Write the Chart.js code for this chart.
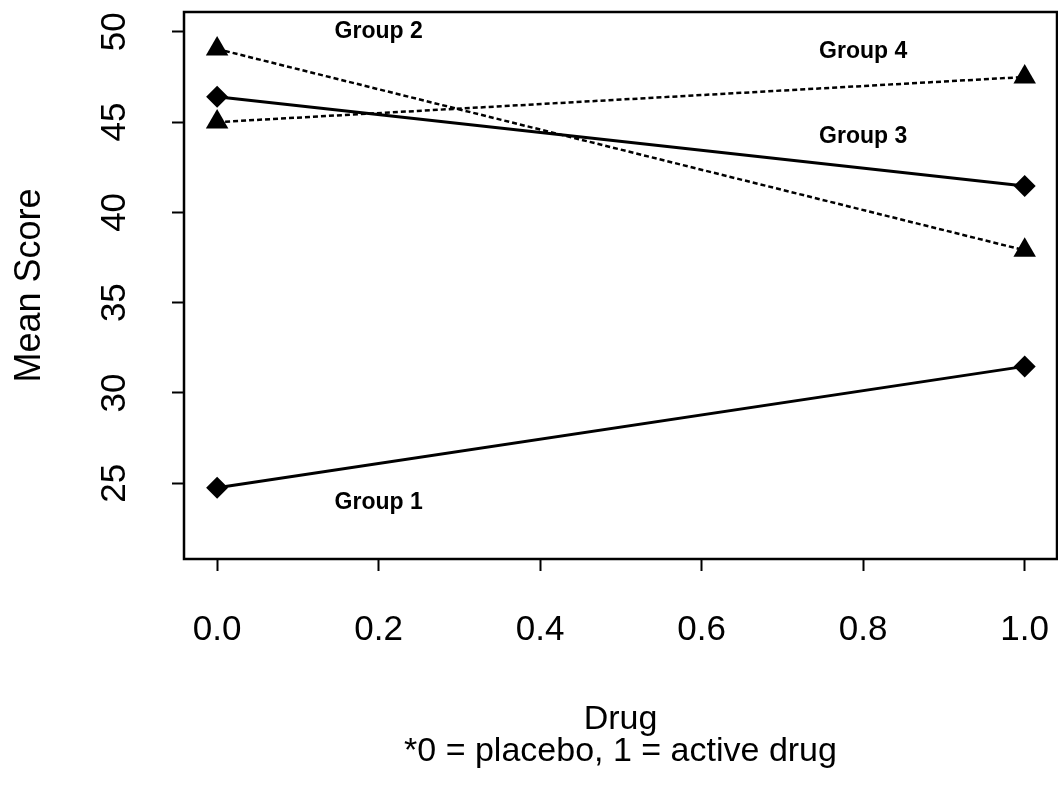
<!DOCTYPE html>
<html>
<head>
<meta charset="utf-8">
<title>Mean Score by Drug</title>
<script src="https://cdn.jsdelivr.net/npm/chart.js"></script>
<style>
  html, body { margin: 0; padding: 0; background: #fff; }
  canvas { display: block; }
</style>
</head>
<body>
<canvas id="chart" width="1058" height="785"></canvas>
<script>
// values
var drugLevels = [0, 1];
var group1 = [24.75, 31.47];
var group2 = [49.05, 37.9];
var group3 = [46.41, 41.46];
var group4 = [45.0, 47.5];

var xTicks = [0, 0.2, 0.4, 0.6, 0.8, 1.0];
var xTickLabels = ["0.0", "0.2", "0.4", "0.6", "0.8", "1.0"];
var yTicks = [25, 30, 35, 40, 45, 50];
var yTickLabels = ["25", "30", "35", "40", "45", "50"];

var groupNames = ["Group 1", "Group 2", "Group 3", "Group 4"];
var groupLabelX = [0.2, 0.2, 0.8, 0.8];
var groupLabelY = [23.9, 50.0, 44.2, 48.9];

var FONT = "'Liberation Sans', Arial, Helvetica, sans-serif";

function toPoints(ys) {
  var pts = [];
  for (var i = 0; i < drugLevels.length; i++) {
    pts.push({x: drugLevels[i], y: ys[i]});
  }
  return pts;
}

function series(name, ys, style, dashed) {
  return {
    label: name,
    data: toPoints(ys),
    showLine: true,
    borderColor: "#000",
    backgroundColor: "#000",
    borderWidth: dashed ? 2.5 : 3,
    borderDash: dashed ? [5, 3] : [],
    pointStyle: style,
    pointRadius: style == "triangle" ? 13 : 11,
    pointBorderWidth: 0,
    pointBackgroundColor: "#000"
  };
}

// box around the plot + the group labels
var boxAndLabels = {
  id: "boxAndLabels",
  afterDraw: function(chart) {
    var ctx = chart.ctx;
    var a = chart.chartArea;
    var xs = chart.scales.x, ys = chart.scales.y;
    ctx.save();
    ctx.strokeStyle = "#000";
    ctx.lineWidth = 2.5;
    ctx.strokeRect(a.left, a.top, a.right - a.left, a.bottom - a.top);
    ctx.fillStyle = "#000";
    ctx.font = "bold 23px " + FONT;
    ctx.textAlign = "center";
    ctx.textBaseline = "middle";
    for (var i = 0; i < groupNames.length; i++) {
      ctx.fillText(groupNames[i], xs.getPixelForValue(groupLabelX[i]), ys.getPixelForValue(groupLabelY[i]));
    }
    ctx.restore();
  }
};

var chart = new Chart(document.getElementById("chart"), {
  type: "scatter",
  data: {
    datasets: [
      series(groupNames[0], group1, "rectRot", false),
      series(groupNames[1], group2, "triangle", true),
      series(groupNames[2], group3, "rectRot", false),
      series(groupNames[3], group4, "triangle", true)
    ]
  },
  options: {
    responsive: false,
    animation: false,
    layout: { autoPadding: false, padding: { left: 0, top: 12, right: 1, bottom: 0 } },
    plugins: { legend: { display: false }, tooltip: { enabled: false } },
    scales: {
      x: {
        type: "linear",
        min: -0.041,
        max: 1.04,
        afterBuildTicks: function(s) { s.ticks = xTicks.map(function(v) { return {value: v}; }); },
        afterFit: function(s) {
          s.height = 785 - 559;
          s.paddingLeft = 0;
          s.paddingRight = 0;
        },
        border: { display: false },
        grid: { drawOnChartArea: false, drawTicks: true, tickLength: 12, tickWidth: 2, color: "#000" },
        ticks: {
          color: "#000",
          padding: 38,
          maxRotation: 0,
          font: { family: FONT, size: 35 },
          callback: function(v) { return xTickLabels[xTicks.indexOf(v)]; }
        },
        title: {
          display: true,
          text: ["Drug", "*0 = placebo, 1 = active drug"],
          color: "#000",
          font: { family: FONT, size: 34, lineHeight: 0.95 },
          padding: { top: 0, bottom: 17 }
        }
      },
      y: {
        type: "linear",
        min: 20.8,
        max: 51.1,
        afterBuildTicks: function(s) { s.ticks = yTicks.map(function(v) { return {value: v}; }); },
        afterFit: function(s) {
          s.width = 184;
          s.paddingTop = 0;
          s.paddingBottom = 0;
        },
        border: { display: false },
        grid: { drawOnChartArea: false, drawTicks: true, tickLength: 12, tickWidth: 2, color: "#000" },
        ticks: {
          color: "#000",
          padding: 37,
          minRotation: 90,
          maxRotation: 90,
          crossAlign: "center",
          font: { family: FONT, size: 35 },
          callback: function(v) { return yTickLabels[yTicks.indexOf(v)]; }
        },
        title: {
          display: true,
          text: "Mean Score",
          color: "#000",
          font: { family: FONT, size: 36, lineHeight: 1.05 },
          padding: { top: 11, bottom: 0 }
        }
      }
    }
  },
  plugins: [boxAndLabels]
});
</script>
</body>
</html>
